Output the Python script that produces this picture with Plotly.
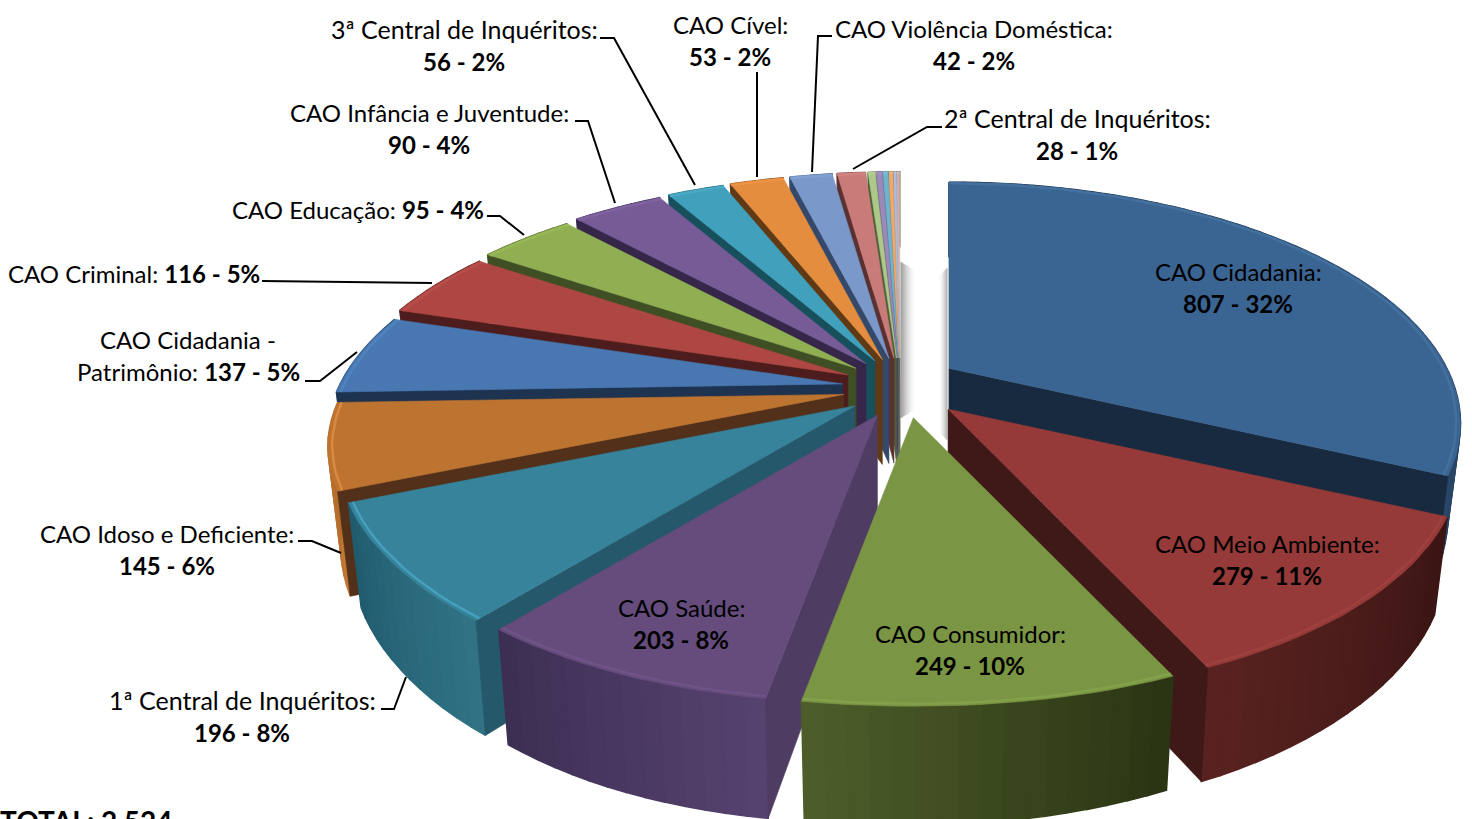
import math
import plotly.graph_objects as go

# ---- data ----
categories = ["CAO Cidadania", "CAO Meio Ambiente", "CAO Consumidor", "CAO Saúde",
              "1ª Central de Inquéritos", "CAO Idoso e Deficiente", "CAO Cidadania - Patrimônio",
              "CAO Criminal", "CAO Educação", "CAO Infância e Juventude", "3ª Central de Inquéritos",
              "CAO Cível", "CAO Violência Doméstica", "2ª Central de Inquéritos",
              "", "", "", "", "", "", ""]
values = [807, 279, 249, 203, 196, 145, 137, 116, 95, 90, 56, 53, 42, 28, 7, 6, 5, 4, 3, 2, 1]
TOTAL = 2524

# ---- styles ----
top_colors = ["#3A6492", "#953A38", "#7A9543", "#654C7C", "#37839B", "#BE7431", "#4877B1",
              "#AE4743", "#8FAF52", "#765B96", "#41A0BC", "#E58D3E", "#7A98C9", "#C97B7A",
              "#ACC88A", "#9B89B8", "#6FB4CC", "#F3A868", "#A9BEDC", "#DDB0AE", "#D0D8C0"]
side_colors = ["#182A40", "#3E1917", "#3D4A20", "#4F3C62", "#25586A", "#52301A", "#1D3350",
               "#4C1D1C", "#3F4E24", "#35264A", "#174F5C", "#5F3A15", "#34486A", "#5A3130",
               "#4E5F38", "#4A3F60", "#2E5F70", "#8A5A2A", "#56688A", "#7A5654", "#707868"]
wall_light = ["#2A4668", "#5A2321", "#4E5F2B", "#56426E", "#317285", "#C47A35", "#2F5080",
              "#6A2B29", "#5A7030", "#4C3A68", "#2A6E80", "#8A5420", "#4A6490", "#804040",
              "#7A9060", "#6A5A88", "#4A8090", "#B07840", "#7088A8", "#A07878", "#909880"]
wall_dark = ["#182A40", "#3A1513", "#2B3514", "#3B2D52", "#1F5A6C", "#A86428", "#24406A",
             "#4C1D1C", "#3F4E24", "#35264A", "#174F5C", "#5F3A15", "#34486A", "#5A3130",
             "#4E5F38", "#4A3F60", "#2E5F70", "#8A5A2A", "#56688A", "#7A5654", "#707868"]
rim_colors = ["#44709E", "#9E413E", "#83A04A", "#6F5287", "#45A0BB", "#D98A3E", "#5082BC",
              "#B84E4A", "#98B858", "#80629F", "#4AAAC6", "#EC9444", "#82A0D0", "#D08482",
              "#B4D092", "#A391C0", "#77BCD4", "#F5B070", "#B1C6E4", "#E5B8B6", "#D8E0C8"]

# ---- projection of the pie (perspective view of a tilted disk) ----
CX, CY = 900, 388          # pie centre on the page
EX, EY = 58, 30            # explosion offset
R, A, P = 498, 229, 0.23
H, SHRINK = 92, 0.025
H_APEX = 105


def project(ax, ay, theta, z=0.0, r=1.0):
    u, v = r * math.sin(theta), -r * math.cos(theta)
    w = 1 / (1 - P * v)
    front = max(0.0, v)
    sx = 1 - 0.04 * front ** 4
    sy = 1 - 0.03 * front ** 8
    if u < 0:
        sx *= 1 + 0.009 * max(0.0, min(1.0, (0.6 - v) / 0.4))
    return (ax + R * u * w * sx * (1 - SHRINK * z),
            ay + A * v * w * sy + (H - 4 * u) * z * w)


def hex2rgb(c):
    return tuple(int(c[i:i + 2], 16) for i in (1, 3, 5))


def mix(a, b, t):
    ca, cb = hex2rgb(a), hex2rgb(b)
    return "rgb(%d,%d,%d)" % tuple(round(x + (y - x) * t) for x, y in zip(ca, cb))


def poly(pts, color, hover=None, lw=0.6):
    xs = [p[0] for p in pts] + [pts[0][0]]
    ys = [p[1] for p in pts] + [pts[0][1]]
    return go.Scatter(x=xs, y=ys, mode="lines", fill="toself", fillcolor=color,
                      line=dict(color=color, width=lw), showlegend=False,
                      hoverinfo="text" if hover else "skip", text=hover)


# slice angles
edges = [0.0]
for val in values:
    edges.append(edges[-1] + 2 * math.pi * val / TOTAL)
slices = []
for i, val in enumerate(values):
    t1, t2 = edges[i], edges[i + 1]
    mid = (t1 + t2) / 2
    s, c = math.sin(mid), math.cos(mid)
    ax = CX + EX * s + max(0, -c) * ((10 if s > 0.5 else 6) if s > 0 else 2)
    ay = CY - EY * c - 8 * max(0, c) * max(0, s)
    slices.append((i, t1, t2, mid, ax, ay))
# painter's order: back to front
slices.sort(key=lambda s: -math.cos(s[3]))

traces = []
# soft shadows beside the gap behind the back slices and the first slice
for d in range(16):
    op = 0.36 * (1 - d / 16) ** 2
    traces.append(go.Scatter(x=[901 + d, 901 + d], y=[262 + d * 0.6, 418 - d * 0.6], mode="lines",
                             line=dict(color="rgba(0,0,0,%.3f)" % op, width=1.2), showlegend=False,
                             hoverinfo="skip"))
for d in range(9):
    op = 0.28 * (1 - d / 9) ** 2
    traces.append(go.Scatter(x=[947 - d, 947 - d], y=[268 + d, 440 - d], mode="lines",
                             line=dict(color="rgba(0,0,0,%.3f)" % op, width=1.2), showlegend=False,
                             hoverinfo="skip"))

for i, t1, t2, mid, ax, ay in slices:
    n = max(2, int((t2 - t1) / math.radians(2)))
    ang = [t1 + (t2 - t1) * k / n for k in range(n + 1)]
    # outer wall, shaded in narrow strips
    for k in range(n):
        a0, a1 = ang[k], ang[k + 1]
        col = mix(wall_light[i], wall_dark[i], k / n if mid > math.pi else 1 - k / n)
        traces.append(poly([project(ax, ay, a0), project(ax, ay, a1),
                            project(ax, ay, a1, 1), project(ax, ay, a0, 1)], col, lw=1.4))
    # the radial wall that faces the viewer
    if t1 >= math.pi:
        edge = t1
    elif t2 <= math.pi:
        edge = t2
    else:
        edge = None
    if edge is not None:
        traces.append(poly([(ax, ay), project(ax, ay, edge), project(ax, ay, edge, 1),
                            (ax, ay + H_APEX)], side_colors[i]))
    # top face
    arc = [project(ax, ay, a) for a in ang]
    label = f"{categories[i]}: {values[i]} - {round(100 * values[i] / TOTAL)}%"
    traces.append(poly([(ax, ay)] + arc, top_colors[i], label))
    # bevel along the rim
    rim = [project(ax, ay, a, 0, 0.992) for a in ang]
    traces.append(go.Scatter(x=[p[0] for p in rim], y=[p[1] for p in rim], mode="lines",
                             line=dict(color=rim_colors[i], width=2.5), showlegend=False,
                             hoverinfo="skip"))

# ---- labels: (x, y of first line, lines) ----
LINE = 32
label_text = [
    (1238, 271, ["CAO Cidadania:", "<b>807 - 32%</b>"]),
    (1267, 543, ["CAO Meio Ambiente:", "<b>279 - 11%</b>"]),
    (970, 633, ["CAO Consumidor:", "<b>249 - 10%</b>"]),
    (681, 607, ["CAO Saúde:", "<b>203 - 8%</b>"]),
    (242, 700, ["1ª Central de Inquéritos:", "<b>196 - 8%</b>"]),
    (167, 533, ["CAO Idoso e Deficiente:", "<b>145 - 6%</b>"]),
    (188, 339, ["CAO Cidadania -", "Patrimônio: <b>137 - 5%</b>"]),
    (134, 273, ["CAO Criminal: <b>116 - 5%</b>"]),
    (358, 209, ["CAO Educação: <b>95 - 4%</b>"]),
    (429, 112, ["CAO Infância e Juventude:", "<b>90 - 4%</b>"]),
    (464, 29, ["3ª Central de Inquéritos:", "<b>56 - 2%</b>"]),
    (730, 24, ["CAO Cível:", "<b>53 - 2%</b>"]),
    (974, 28, ["CAO Violência Doméstica:", "<b>42 - 2%</b>"]),
    (1077, 118, ["2ª Central de Inquéritos:", "<b>28 - 1%</b>"]),
]
leaders = [
    [(600, 38), (614, 38), (695, 185)],
    [(757, 72), (757, 177)],
    [(832, 36), (818, 36), (812, 172)],
    [(942, 127), (927, 127), (853, 169)],
    [(575, 121), (588, 121), (615, 203)],
    [(487, 216), (500, 216), (524, 235)],
    [(262, 281), (432, 283)],
    [(305, 381), (320, 381), (357, 352)],
    [(298, 541), (312, 541), (341, 553)],
    [(381, 709), (394, 709), (406, 677)],
]
FONT = "Lato"
annotations = []
for x, y, lines in label_text:
    for j, line in enumerate(lines):
        size = 25 if "ª" in line else 24
        annotations.append(dict(x=x, y=y + j * LINE, xref="x", yref="y", text=line, showarrow=False,
                                font=dict(family=FONT, size=size, color="black")))
annotations.append(dict(x=0, y=0, xref="paper", yref="paper", text="<b>TOTAL: 2.524</b>", showarrow=False,
                        xanchor="left", yanchor="middle", yshift=-2, xshift=-2,
                        font=dict(family=FONT, size=28, color="black")))
shapes = [dict(type="path", xref="x", yref="y", line=dict(color="black", width=2),
               path="M" + " L".join(f"{x},{y}" for x, y in pts)) for pts in leaders]

fig = go.Figure(traces)
fig.update_layout(width=1472, height=819, margin=dict(l=0, r=0, t=0, b=0),
                  paper_bgcolor="white", plot_bgcolor="white", showlegend=False,
                  annotations=annotations, shapes=shapes,
                  xaxis=dict(range=[0, 1472], visible=False, fixedrange=True),
                  yaxis=dict(range=[819, 0], visible=False, fixedrange=True))
fig.write_html("out.html", config={"displayModeBar": False},
               post_script="document.body.style.margin='0';document.body.style.overflow='hidden';")
